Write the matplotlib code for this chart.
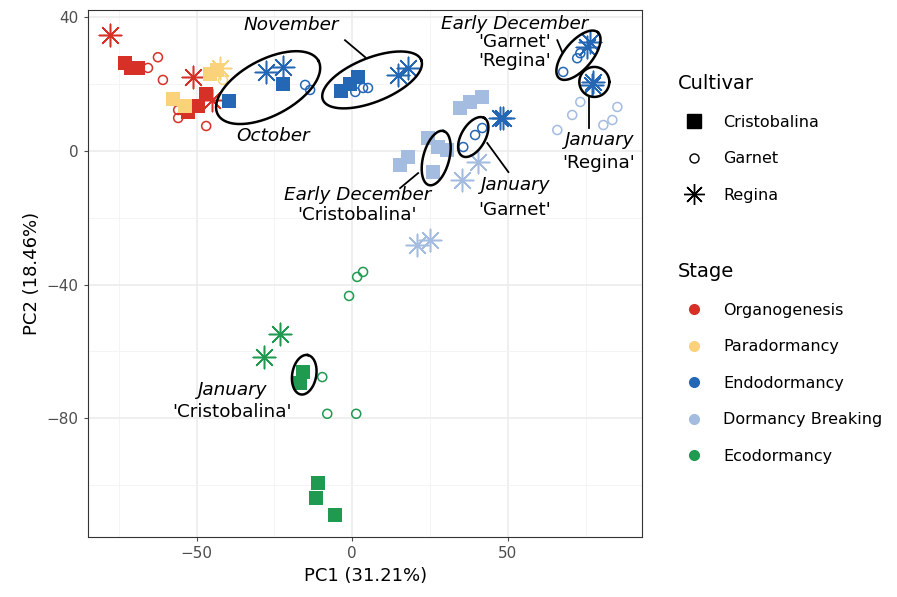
import numpy as np
import matplotlib
matplotlib.use('Agg')
import matplotlib.pyplot as plt
from matplotlib.lines import Line2D

stages = ['Organogenesis', 'Paradormancy', 'Endodormancy', 'Dormancy Breaking', 'Ecodormancy']
colors = ['#d73027', '#fad27a', '#2467b5', '#a3bce0', '#1f9a50']

# (x, y) per stage for each cultivar
cristobalina = {
    'Organogenesis': [(-73, 26.3), (-68.8, 24.9), (-52.7, 11.7), (-49.5, 13.5), (-46.9, 17.1), (-71, 25)],
    'Paradormancy': [(-57.6, 15.6), (-53.7, 13.5), (-45.7, 23.1), (-43.4, 24.3)],
    'Endodormancy': [(-39.5, 15), (-22.2, 20.1), (-3.5, 18), (-0.6, 20), (1.9, 22.2)],
    'Dormancy Breaking': [(15.4, -4.2), (18, -1.8), (24.4, 3.9), (27.7, 1.2), (26, -6.3), (30.5, 0.3),
                          (34.7, 12.9), (37.9, 14.7), (41.8, 16.2)],
    'Ecodormancy': [(-15.8, -66.2), (-16.7, -69.5), (-10.9, -99.4), (-11.6, -103.9), (-5.5, -109)],
}
garnet = {
    'Organogenesis': [(-65.6, 24.9), (-62.4, 28.1), (-60.8, 21.3), (-55.9, 12.3), (-55.9, 9.9), (-46.9, 7.5)],
    'Paradormancy': [(-41.5, 21.3)],
    'Endodormancy': [(-15.1, 19.8), (-13.5, 18.3), (1, 17.7), (3.5, 18.9), (5.1, 18.9),
                     (67.8, 23.7), (72.3, 27.8), (73.3, 29.3), (35.7, 1.2), (39.5, 4.8), (41.8, 6.9)],
    'Dormancy Breaking': [(65.9, 6.3), (70.7, 10.8), (73.3, 14.7), (80.7, 7.8), (83.6, 9.3), (85.2, 13.2)],
    'Ecodormancy': [(3.5, -36.2), (1.6, -37.7), (-1, -43.4), (-9.6, -67.7), (-8, -78.7), (1.3, -78.7)],
}
regina = {
    'Organogenesis': [(-77.8, 34.7), (-51.1, 22.2), (-45, 15.3)],
    'Paradormancy': [(-42.4, 24.9)],
    'Endodormancy': [(-27.7, 23.7), (-22.2, 25.1), (14.8, 22.8), (18, 24.9), (76.5, 32.6), (75.6, 31.1),
                     (77.5, 20.7), (77.2, 19.8), (47.6, 9.9), (48.6, 9.9)],
    'Dormancy Breaking': [(40.5, -3.3), (35.4, -8.7), (20.9, -28.1), (25.1, -26.6)],
    'Ecodormancy': [(-23.2, -54.8), (-28.3, -61.7)],
}

# ellipses: centre (data), semi-axes (px), angle (deg)
ellipses = [((-27, 19), 57, 28, 28), ((6.4, 21.3), 53, 22, 22), ((27, -2.1), 28, 13, 75),
            ((38.9, 4.2), 22, 12, 60), ((72.7, 28.7), 30, 14, 50), ((77.8, 20.7), 15, 15, 0),
            ((-15.4, -67), 20, 12, 80)]
# label lines: x, y, text, italic
label_lines = [(-19.6, 37.7, 'November', True), (-25.4, 4.5, 'October', True),
               (52.1, 38.0, 'Early December', True), (52.1, 32.6, "'Garnet'", False),
               (52.1, 27.0, "'Regina'", False),
               (79.1, 3.3, 'January', True), (79.1, -3.6, "'Regina'", False),
               (52.1, -10.2, 'January', True), (52.1, -17.7, "'Garnet'", False),
               (1.6, -13.2, 'Early December', True), (1.6, -19.2, "'Cristobalina'", False),
               (-38.6, -71.6, 'January', True), (-38.6, -78.1, "'Cristobalina'", False)]
leaders = [((-2.3, 33.2), (4.2, 28.1)), ((65.9, 33.2), (67.5, 29.6)), ((76.2, 16.2), (76.2, 6.9)),
           ((43.4, 2.4), (50.2, -6.3)), ((21.2, -6.6), (15.4, -11.1))]

fig = plt.figure(figsize=(8.97, 5.97), dpi=100)
ax = fig.add_axes([0.098, 0.1005, 0.618, 0.8825])
sx, sy = 3.11, 3.34

for st, c in zip(stages, colors):
    p = np.array(cristobalina[st])
    ax.scatter(p[:, 0], p[:, 1], marker='s', s=110, color=c, zorder=3, linewidths=0)
    p = np.array(garnet[st])
    ax.scatter(p[:, 0], p[:, 1], marker='o', s=42, facecolors='none', edgecolors=c, linewidths=1.1, zorder=3)
    p = np.array(regina[st])
    ax.scatter(p[:, 0], p[:, 1], marker=(8, 2, 0), s=260, color=c, linewidths=1.1, zorder=3)

t = np.linspace(0, 2 * np.pi, 200)
for (cx, cy), a, b, ang in ellipses:
    th = np.radians(ang)
    ex = cx + (a * np.cos(t) * np.cos(th) - b * np.sin(t) * np.sin(th)) / sx
    ey = cy + (a * np.cos(t) * np.sin(th) + b * np.sin(t) * np.cos(th)) / sy
    ax.plot(ex, ey, color='black', lw=1.8, zorder=4)
for (x0, y0), (x1, y1) in leaders:
    ax.plot([x0, x1], [y0, y1], color='black', lw=1.3, zorder=4)
for x, y, s, it in label_lines:
    ax.text(x, y, s, style='italic' if it else 'normal', fontsize=13.2,
            ha='center', va='center', zorder=5)

ax.set_xlim(-84.9, 93.2)
ax.set_ylim(-115.6, 42.2)
ax.set_xticks([-50, 0, 50])
ax.set_yticks([40, 0, -40, -80])
ax.set_xticks([-75, -25, 25, 75], minor=True)
ax.set_yticks([20, -20, -60, -100], minor=True)
ax.grid(which='major', color='#ebebeb', lw=1.1)
ax.grid(which='minor', color='#f3f3f3', lw=0.6)
ax.set_axisbelow(True)
ax.tick_params(which='minor', length=0)
ax.tick_params(which='major', labelsize=11, colors='#4d4d4d', length=3)
for s in ax.spines.values():
    s.set_color('#333333')
ax.set_xlabel('PC1 (31.21%)', fontsize=13)
ax.set_ylabel('PC2 (18.46%)', fontsize=13)

h1 = [Line2D([], [], ls='', marker='s', ms=10, color='black'),
      Line2D([], [], ls='', marker='o', ms=6.5, mfc='none', mec='black'),
      Line2D([], [], ls='', marker=(8, 2, 0), ms=15, color='black')]
fig.legend(h1, ['Cristobalina', 'Garnet', 'Regina'], title='Cultivar', loc='upper left',
           bbox_to_anchor=(0.74, 0.9), frameon=False, fontsize=11.5, title_fontsize=14,
           labelspacing=1.35, handletextpad=0.8, alignment='left')
h2 = [Line2D([], [], ls='', marker='o', ms=7, color=c) for c in colors]
fig.legend(h2, stages, title='Stage', loc='upper left', bbox_to_anchor=(0.74, 0.585),
           frameon=False, fontsize=11.5, title_fontsize=14, labelspacing=1.35,
           handletextpad=0.8, alignment='left')

fig.savefig('out.png', dpi=100)
